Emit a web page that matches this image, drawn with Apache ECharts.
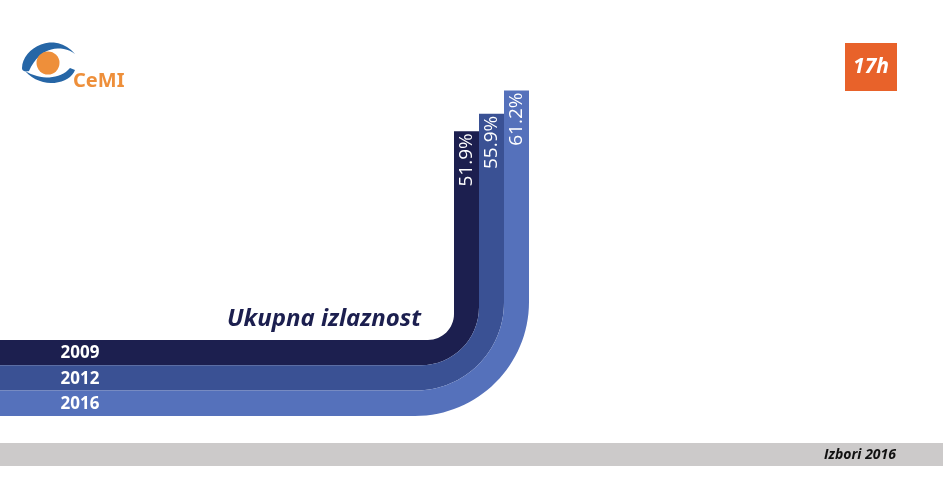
<!DOCTYPE html>
<html><head><meta charset="utf-8">
<script src="https://cdn.jsdelivr.net/npm/echarts@6/dist/echarts.min.js"></script>
<style>html,body{margin:0;padding:0;background:#fff}#c{width:943px;height:493px}</style>
</head><body><div id="c"></div>
<script>
const years = ['2009', '2012', '2016'];
const turnout = [51.9, 55.9, 61.2];
const colors = ['#1c1f4f', '#3a5194', '#5571bb'];
const titleText = 'Ukupna izlaznost';
const timeLabel = '17h';
const footerText = 'Izbori 2016';
const logoText = 'CeMI';

const chart = echarts.init(document.getElementById('c'), null, {renderer: 'canvas'});
const stripeTop = 340, stripeH = 25.3;
const radii = [26, 58, 88, 114];
const K = 0.5523;

// sample a sequence of cubic bezier segments into polygon points (logo decoration)
function bez(start, segs) {
  const pts = [start];
  let p0 = start;
  segs.forEach(s => {
    if (s.length === 1) { pts.push(s[0]); p0 = s[0]; return; }
    const [c1, c2, p3] = s;
    for (let t = 1; t <= 16; t++) {
      const u = t / 16, w = 1 - u;
      pts.push([
        w*w*w*p0[0] + 3*w*w*u*c1[0] + 3*w*u*u*c2[0] + u*u*u*p3[0],
        w*w*w*p0[1] + 3*w*w*u*c1[1] + 3*w*u*u*c2[1] + u*u*u*p3[1]
      ]);
    }
    p0 = p3;
  });
  return pts;
}

function renderItem(params, api) {
  const i = params.dataIndex;
  const v = api.value(1);
  const top = api.coord([api.value(0), v]);
  const bw = api.size([1, 0])[0];
  const xL = top[0] - bw / 2, xR = top[0] + bw / 2, yTop = top[1];
  const yT = stripeTop + i * stripeH, yB = yT + stripeH;
  const rI = radii[i], rO = radii[i + 1];
  const d = [
    'M', 0, yT,
    'L', xL - rI, yT,
    'C', xL - rI + rI * K, yT, xL, yT - rI + rI * K, xL, yT - rI,
    'L', xL, yTop,
    'L', xR, yTop,
    'L', xR, yB - rO,
    'C', xR, yB - rO + rO * K, xR - rO + rO * K, yB, xR - rO, yB,
    'L', 0, yB, 'Z'
  ].join(' ');
  return {
    type: 'group',
    children: [
      {type: 'path', shape: {pathData: d}, style: {fill: colors[i]}},
      {type: 'text', x: 80, y: yT + stripeH / 2 + 1,
        style: {text: years[i], fill: '#fff', fontSize: 17, fontWeight: 'bold',
          fontFamily: '"Open Sans"', align: 'center', verticalAlign: 'middle'}},
      {type: 'text', x: top[0], y: yTop + 2, rotation: Math.PI / 2,
        style: {text: v.toFixed(1) + '%', fill: '#fff', fontSize: 19,
          fontFamily: '"Open Sans"', align: 'right', verticalAlign: 'middle'}}
    ]
  };
}

const upperLid = bez([22, 68], [[[22, 48], [55, 30], [75, 54]], [[62, 44], [40, 46], [29, 71]], [[25, 72], [22, 71], [22, 68]]]);
const lowerLid = bez([25, 71], [[[40, 80], [60, 80], [70, 68]], [[75, 70]], [[70, 84], [42, 90], [25, 71]]]);

chart.setOption({
  animation: false,
  grid: {left: 454, right: 414, top: 52, bottom: 134.5},
  xAxis: {type: 'category', data: years, show: false, boundaryGap: true},
  yAxis: {type: 'value', min: 0, max: 70, show: false, splitLine: {show: false}},
  series: [{
    type: 'custom',
    clip: false,
    renderItem: renderItem,
    data: turnout.map((v, i) => [years[i], v])
  }],
  graphic: [
    {type: 'polygon', shape: {points: upperLid}, style: {fill: '#2666a6'}},
    {type: 'polygon', shape: {points: lowerLid}, style: {fill: '#2666a6'}},
    {type: 'circle', shape: {cx: 48, cy: 63, r: 11.5}, style: {fill: '#ee8f3a'}},
    {type: 'text', x: 73, y: 81, style: {text: logoText, fill: '#ee8f3a', fontSize: 20, fontWeight: 'bold',
      fontFamily: '"Noto Sans"', align: 'left', verticalAlign: 'middle'}},
    {type: 'rect', shape: {x: 845, y: 43, width: 52, height: 48}, style: {fill: '#e8622a'}},
    {type: 'text', x: 871, y: 67, style: {text: timeLabel, fill: '#fff', fontSize: 21,
      fontWeight: 'bold', fontStyle: 'italic', fontFamily: '"Open Sans"', align: 'center', verticalAlign: 'middle'}},
    {type: 'text', x: 421, y: 319, style: {text: titleText, fill: '#1c1f4f', fontSize: 24,
      fontWeight: 'bold', fontStyle: 'italic', fontFamily: '"Open Sans"', align: 'right', verticalAlign: 'middle'}},
    {type: 'rect', shape: {x: 0, y: 443, width: 943, height: 23}, style: {fill: '#cccaca'}},
    {type: 'text', x: 896, y: 455, style: {text: footerText, fill: '#111', fontSize: 14,
      fontWeight: 'bold', fontStyle: 'italic', fontFamily: '"Open Sans"', align: 'right', verticalAlign: 'middle'}}
  ]
});
</script>
</body></html>
